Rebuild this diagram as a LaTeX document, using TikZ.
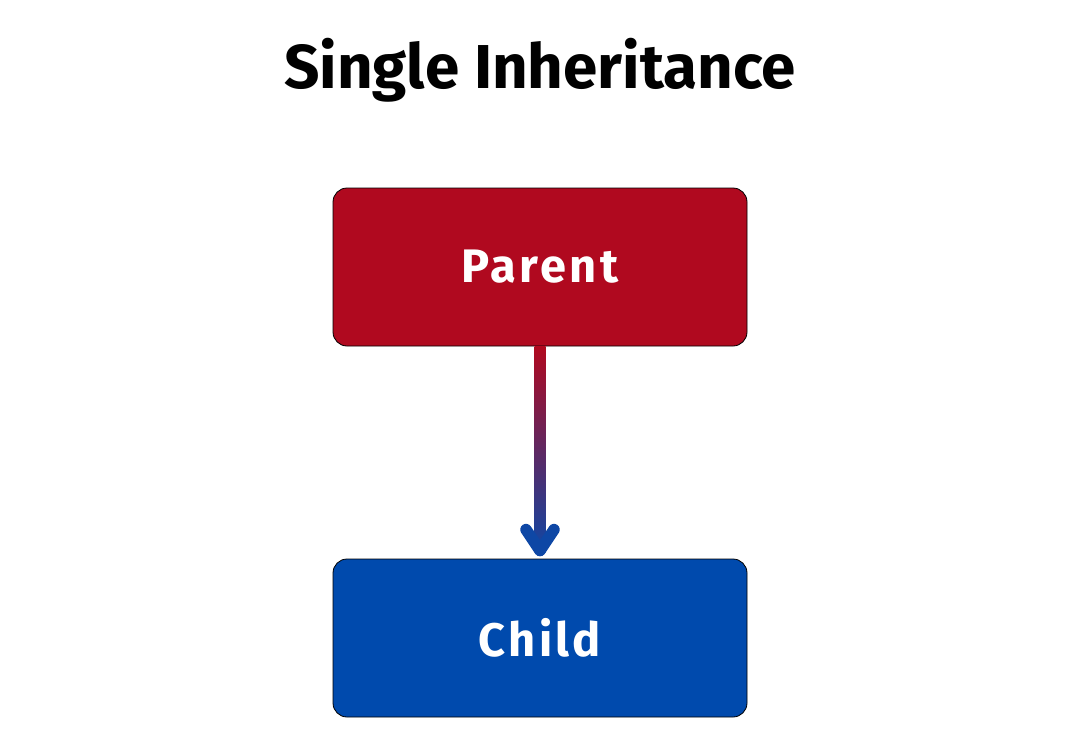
\documentclass[tikz,border=0pt]{standalone}
\usepackage{fontspec}
\setmainfont{Fira Sans}
\newfontfamily\boxfont[LetterSpace=7]{Fira Sans}
\usetikzlibrary{calc}
\definecolor{parentred}{HTML}{B0091F}
\definecolor{childblue}{HTML}{004AAD}
\definecolor{arrowblue}{HTML}{0E47A5}
\tikzset{
  classbox/.style={draw=black, line width=0.8pt, rounded corners=14pt, minimum width=414pt, minimum height=158pt, inner sep=0pt, text=white, font=\boxfont\fontsize{47}{50}\selectfont\bfseries},
}
\begin{document}
\begin{tikzpicture}[x=1pt,y=-1pt]
\useasboundingbox[fill=white] (0,0) rectangle (1080,748);
\node[font=\fontsize{62}{66}\selectfont\bfseries, anchor=base] (title) at (540,88) {Single Inheritance};
\node[classbox, fill=parentred] (parent) at (540,267) {Parent};
\node[classbox, fill=childblue] (child) at (540,638) {Child};
\path[top color=parentred, bottom color=arrowblue] ($(parent.south)+(-5.5,0.5)$) rectangle ($(child.north)+(5.5,-6)$);
\draw[arrowblue, line width=11.5pt, line cap=round, line join=round] ($(child.north)+(-14,-29)$) -- ($(child.north)+(0,-8)$) -- ($(child.north)+(14,-29)$);
\end{tikzpicture}
\end{document}
